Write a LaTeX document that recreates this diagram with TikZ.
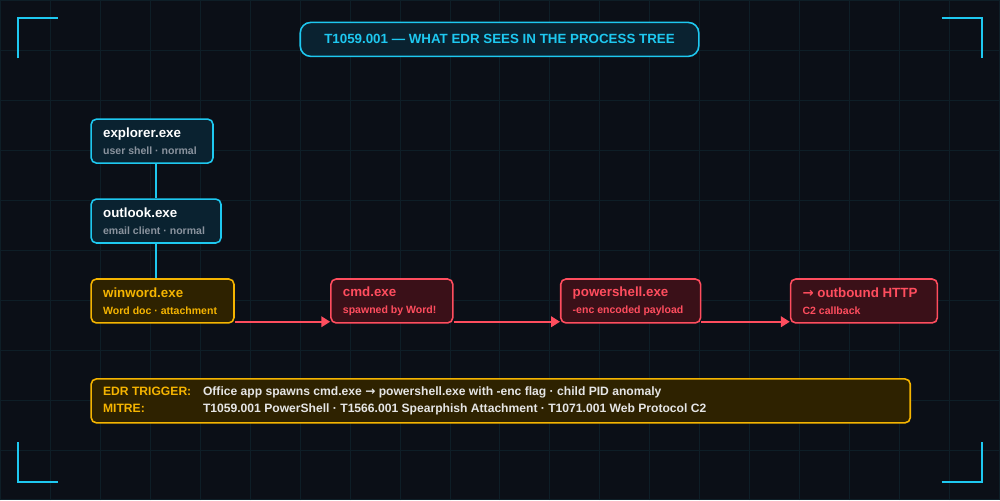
\documentclass[tikz,border=0pt]{standalone}
\usepackage{fontspec}
\setmainfont{Liberation Sans}
\newfontfamily\arrowfont{DejaVu Sans}
\usetikzlibrary{arrows.meta,positioning}
\definecolor{bg}{HTML}{0B0F17}
\definecolor{gridc}{HTML}{0E1E27}
\definecolor{cyanc}{HTML}{1EC8F0}
\definecolor{cyanf}{HTML}{0A2230}
\definecolor{orc}{HTML}{F5B400}
\definecolor{orf}{HTML}{2E2200}
\definecolor{redc}{HTML}{FF4D5E}
\definecolor{redf}{HTML}{3A1018}
\definecolor{greyc}{HTML}{8A939E}
\newcommand{\proc}[2]{\mbox{\fontsize{7.6}{8}\selectfont\bfseries #1}\\[-2.5pt]\mbox{\fontsize{6.0}{8}\selectfont\bfseries #2}}
\begin{document}
\begin{tikzpicture}[x=0.02cm,y=-0.02cm]
\tikzstyle{box} = [rectangle, draw, line width=0.9pt, rounded corners=3pt,
  anchor=north west, align=left, inner xsep=0.24cm, inner ysep=0pt, minimum height=0.88cm,
  execute at begin node={\spaceskip=0pt\xspaceskip=0pt}]
\tikzstyle{normal} = [box, draw=cyanc, fill=cyanf, text=white]
\tikzstyle{office} = [box, draw=orc, fill=orf, text=orc]
\tikzstyle{bad} = [box, draw=redc, fill=redf, text=redc]
\tikzstyle{tree} = [draw=cyanc, line width=1pt]
\tikzstyle{spawn} = [draw=redc, line width=1pt, -{Triangle[length=5pt,width=6pt]}]
\fill[bg] (0,0) rectangle (1000,500);
\draw[gridc, line width=0.5pt, step=1cm] (0,0) grid (1000,500);
% corner brackets
\draw[cyanc, line width=1.2pt] (18,58) -- (18,18) -- (58,18);
\draw[cyanc, line width=1.2pt] (942,18) -- (982,18) -- (982,58);
\draw[cyanc, line width=1.2pt] (18,442) -- (18,482) -- (58,482);
\draw[cyanc, line width=1.2pt] (942,482) -- (982,482) -- (982,442);
% title
\node[draw=cyanc, fill=cyanf, text=cyanc, line width=0.9pt, rounded corners=6pt,
  minimum width=7.98cm, minimum height=0.68cm, font=\fontsize{7.6}{9}\selectfont\bfseries]
  (title) at (499.5,39) {T1059.001 — WHAT EDR SEES IN THE PROCESS TREE};
% process tree
\node[normal, text width=1.96cm] (explorer) at (90,118) {\proc{explorer.exe}{\textcolor{greyc}{user shell · normal}}};
\node[normal, text width=2.12cm] (outlook) at (90,198) {\proc{outlook.exe}{\textcolor{greyc}{email client · normal}}};
\node[office, text width=2.38cm] (winword) at (90,278) {\proc{winword.exe}{Word doc · attachment}};
\node[bad, text width=1.96cm] (cmd) at (330,278) {\proc{cmd.exe}{spawned by Word!}};
\node[bad, text width=2.32cm] (powershell) at (560,278) {\proc{powershell.exe}{-enc encoded payload}};
\node[bad, text width=2.46cm] (http) at (790,278) {\proc{{\arrowfont →} outbound HTTP}{C2 callback}};
\draw[tree] (explorer.south -| 156,0) -- (outlook.north -| 156,0);
\draw[tree] (outlook.south -| 156,0) -- (winword.north -| 156,0);
\draw[spawn] ([yshift=0.04cm]winword.south east) -- ([yshift=0.04cm]cmd.south west);
\draw[spawn] ([yshift=0.04cm]cmd.south east) -- ([yshift=0.04cm]powershell.south west);
\draw[spawn] ([yshift=0.04cm]powershell.south east) -- ([yshift=0.04cm]http.south west);
% trigger box
\node[box, draw=orc, fill=orf, text width=15.92cm, inner xsep=0.24cm,
  font=\fontsize{6.9}{8}\selectfont\bfseries] (edr) at (90,378)
  {\begin{tabular}{@{}p{2cm}@{}l@{}}
   \textcolor{orc}{EDR TRIGGER:} & \textcolor{white!90!black}{Office app spawns cmd.exe {\arrowfont →} powershell.exe with -enc flag · child PID anomaly}\\[1.5pt]
   \textcolor{orc}{MITRE:} & \textcolor{white!90!black}{T1059.001 PowerShell · T1566.001 Spearphish Attachment · T1071.001 Web Protocol C2}
  \end{tabular}};
\end{tikzpicture}
\end{document}
